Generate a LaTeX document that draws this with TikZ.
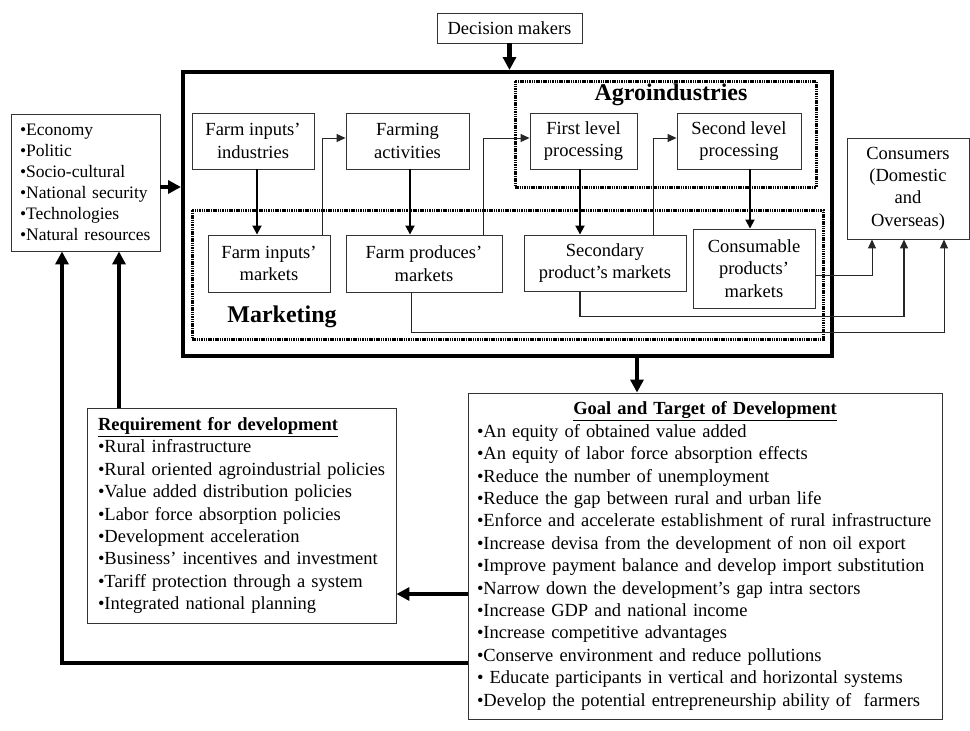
\documentclass[tikz,border=0pt]{standalone}
\usepackage{fontspec}
\setmainfont{Liberation Serif}
\usetikzlibrary{arrows.meta}
\begin{document}
\begin{tikzpicture}[x=1pt,y=-1pt,
  txt/.style={font=\fontsize{18.5}{22.4}\selectfont},
  box/.style={draw=black!80, line width=0.9pt, txt, align=center, inner sep=0pt},
  listbox/.style={draw=black!80, line width=0.9pt, txt, align=left, inner ysep=0pt},
  zone/.style={draw=black, line width=3pt, dash pattern=on 1.5pt off 0.8pt, inner sep=0pt},
  heavy/.style={line width=4.5pt, -{Triangle[length=13pt,width=13pt]}},
  flow/.style={line width=1.8pt, -{Triangle[length=9pt,width=9pt]}},
  link/.style={line width=1pt, draw=black!85, -{Triangle[length=9pt,width=8pt]}},
  zonelabel/.style={font=\fontsize{24}{28}\selectfont\bfseries},
]
\useasboundingbox (0,0) rectangle (970,731);

% decision level and the agroindustrial system
\node[box, minimum width=145pt, minimum height=30pt] (dm) at (509.5,28) {Decision makers};
\node[draw, line width=4pt, minimum width=649pt, minimum height=284pt, inner sep=0pt] (core) at (507.5,214) {};
\node[zone, minimum width=301pt, minimum height=106pt] (agro) at (665.5,134) {};
\node[zone, minimum width=631pt, minimum height=129pt] (mkt) at (507.5,274.5) {};
\node[zonelabel] (agrolabel) at (671,95) {Agroindustries};
\node[zonelabel] (mktlabel) at (282,317) {Marketing};

% production chain
\node[box, minimum width=122pt, minimum height=56pt] (fii) at (253,141) {Farm inputs’\\industries};
\node[box, minimum width=123pt, minimum height=56pt] (fa) at (407.5,141) {Farming\\activities};
\node[box, minimum width=107pt, minimum height=56pt] (flp) at (583.5,141) {First level\\processing};
\node[box, minimum width=124pt, minimum height=56pt] (slp) at (739,141) {Second level\\processing};

% markets
\node[box, minimum width=122pt, minimum height=57pt] (fim) at (269,263.5) {Farm inputs’\\markets};
\node[box, minimum width=156pt, minimum height=57pt] (fpm) at (424,263.5) {Farm produces’\\markets};
\node[box, minimum width=162pt, minimum height=56pt] (spm) at (605,263) {Secondary\\product’s markets};
\node[box, minimum width=122pt, minimum height=79pt] (cpm) at (754,268.5) {Consumable\\products’\\markets};
\node[box, minimum width=122pt, minimum height=101pt] (cons) at (908,188.5) {Consumers\\(Domestic\\and\\Overseas)};

% environment
\node[listbox, text width=131pt, inner xsep=9pt, minimum height=137pt, font=\fontsize{17.5}{21}\selectfont] (env) at (85.5,182.5)
  {•Economy\\•Politic\\•Socio-cultural\\•National security\\•Technologies\\•Natural resources};

% requirements
\node[listbox, text width=287pt, inner xsep=11pt, minimum height=215pt] (req) at (241.5,515.5)
  {\textbf{\underline{Requirement for development}}\\
   •Rural infrastructure\\
   •Rural oriented agroindustrial policies\\
   •Value added distribution policies\\
   •Labor force absorption policies\\
   •Development acceleration\\
   •Business’ incentives and investment\\
   •Tariff protection through a system\\
   •Integrated national planning};

% goals
\node[listbox, text width=456pt, inner xsep=9pt, minimum height=326pt] (goal) at (705,556)
  {\makebox[456pt]{\textbf{\underline{Goal and Target of Development}}}\\
   •An equity of obtained value added\\
   •An equity of labor force absorption effects\\
   •Reduce the number of unemployment\\
   •Reduce the gap between rural and urban life\\
   •Enforce and accelerate establishment of rural infrastructure\\
   •Increase devisa from the development of non oil export\\
   •Improve payment balance and develop import substitution\\
   •Narrow down the development’s gap intra sectors\\
   •Increase GDP and national income\\
   •Increase competitive advantages\\
   •Conserve environment and reduce pollutions\\
   • Educate participants in vertical and horizontal systems\\
   •Develop the potential entrepreneurship ability of\ \ farmers};

% heavy connectors
\draw[heavy] (dm.south) -- (dm.south |- core.north);
\coordinate (e0) at ([yshift=-4.5pt]env.east);
\draw[heavy] (e0) -- (e0 -| core.west);
\coordinate (c0) at ([xshift=129.5pt]core.south);
\draw[heavy] (c0) -- (c0 |- goal.north);
\coordinate (g0) at ([yshift=-38pt]goal.west);
\draw[heavy] (g0) -- (g0 -| req.east);
\coordinate (e1) at ([xshift=33.5pt]env.south);
\draw[heavy] (e1 |- req.north) -- (e1);
\coordinate (e2) at ([xshift=-23.5pt]env.south);
\coordinate (g1) at ([yshift=-107pt]goal.west);
\draw[heavy] (g1) -| (e2);

% downward flows into markets
\coordinate (p1) at ([xshift=4pt]fii.south);
\draw[flow] (p1) -- (p1 |- fim.north);
\coordinate (p2) at ([xshift=2.5pt]fa.south);
\draw[flow] (p2) -- (p2 |- fpm.north);
\coordinate (p3) at ([xshift=-3.5pt]flp.south);
\draw[flow] (p3) -- (p3 |- spm.north);
\coordinate (p4) at ([xshift=11pt]slp.south);
\draw[flow] (p4) -- (p4 |- cpm.north);

% markets feeding the next stage
\coordinate (q1) at ([xshift=-8pt]fim.north east);
\coordinate (r1) at ([yshift=3pt]fa.west);
\draw[link] (q1) |- (r1);
\coordinate (q2) at ([xshift=-19pt]fpm.north east);
\coordinate (r2) at ([yshift=3pt]flp.west);
\draw[link] (q2) |- (r2);
\coordinate (q3) at ([xshift=-33pt]spm.north east);
\coordinate (r3) at ([yshift=3pt]slp.west);
\draw[link] (q3) |- (r3);

% markets to consumers
\coordinate (s1) at ([yshift=-6.5pt]cpm.east);
\coordinate (t1) at ([xshift=-36pt]cons.south);
\draw[link] (s1) -| (t1);
\coordinate (s2) at ([xshift=-25pt]spm.south);
\coordinate (t2) at ([xshift=-4pt]cons.south);
\draw[link, line width=1.4pt] (s2) -- ++(0,25) -| (t2);
\coordinate (s3) at ([xshift=-13pt]fpm.south);
\coordinate (t3) at ([xshift=36pt]cons.south);
\draw[link] (s3) -- ++(0,40) -| (t3);
\end{tikzpicture}
\end{document}
